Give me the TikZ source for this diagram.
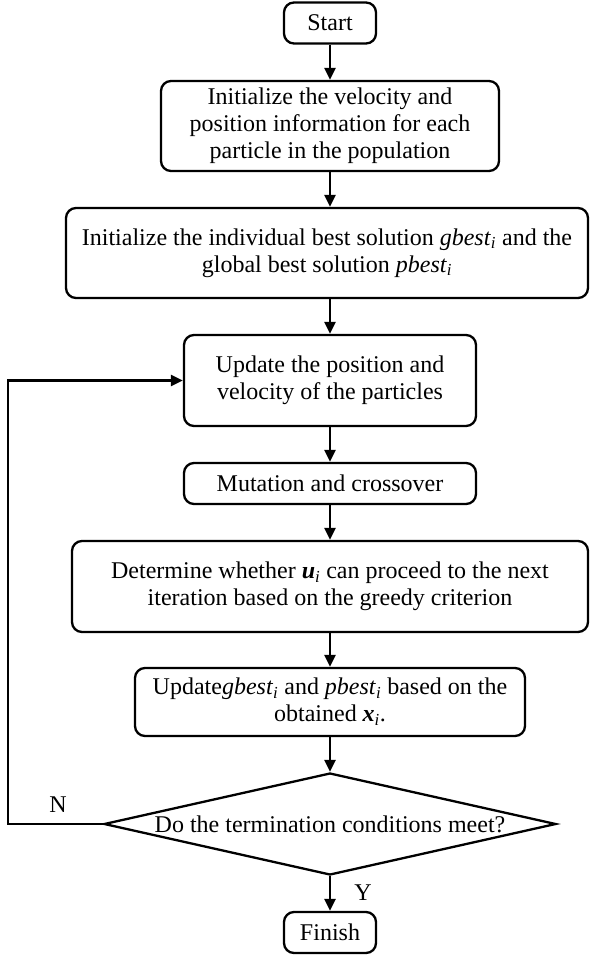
\documentclass[tikz,border=0pt]{standalone}
\usepackage{fontspec}
\setmainfont{Liberation Serif}
\usetikzlibrary{shapes.geometric}
\usetikzlibrary{arrows.meta}
\newcommand{\vari}[1]{\textit{#1}\textsubscript{\textit{i}}}
\newcommand{\vecti}[1]{\textbf{\textit{#1}}\textsubscript{\textit{i}}}

\begin{document}
\begin{tikzpicture}[x=1pt,y=1pt,every node/.style={font=\fontsize{24}{27}\selectfont},
					box/.style={rectangle,rounded corners=10pt,draw,line width=2.3pt,align=center,inner sep=0pt},
					test/.style={diamond,draw,line width=2.3pt,inner sep=0pt,aspect=4.4},
					arrow/.style={line width=2.8pt,-{Triangle[length=12pt,width=11pt]}}
					]
					\useasboundingbox (0,0) rectangle (590,-957);
					% boxes
					\node[box,minimum width=92pt,minimum height=41pt](start) at (330,-23){Start};
					\node[box,minimum width=338pt,minimum height=90pt](init) at (330,-126){Initialize the velocity and\\position information for each\\particle in the population};
					\node[box,minimum width=522pt,minimum height=90pt](best) at (327,-253){Initialize the individual best solution \vari{gbest} and the\\global best solution \vari{pbest}};
					\node[box,minimum width=292pt,minimum height=91pt](update) at (330,-380.5){Update the position and\\velocity of the particles};
					\node[box,minimum width=292pt,minimum height=41pt](mut) at (330,-483.5){Mutation and crossover};
					\node[box,minimum width=516pt,minimum height=91pt](greedy) at (330,-586.5){Determine whether \vecti{u} can proceed to the next\\iteration based on the greedy criterion};
					\node[box,minimum width=390pt,minimum height=68pt](renew) at (330,-702){Update\vari{gbest} and \vari{pbest} based on the\\obtained \vecti{x}.};
					\node[test,minimum width=452pt,minimum height=102pt](cond) at (330,-824){Do the termination conditions meet?};
					\node[box,minimum width=92pt,minimum height=41pt](finish) at (330,-932.5){Finish};
					\node(nlab) at (58,-805){N};
					\node(ylab) at (363,-893){Y};
					\coordinate(turn) at (8,-824);
					% arrows
					\draw[arrow] (start) -- (init);
					\draw[arrow] (init) -- (init |- best.north);
					\draw[arrow] (update |- best.south) -- (update);
					\draw[arrow] (update) -- (mut);
					\draw[arrow] (mut) -- (greedy);
					\draw[arrow] (greedy) -- (renew);
					\draw[arrow] (renew) -- (cond);
					\draw[arrow] (cond) -- (finish);
					\draw[arrow] (cond.west) -- (turn) |- (update.west);
					\end{tikzpicture}
\end{document}
